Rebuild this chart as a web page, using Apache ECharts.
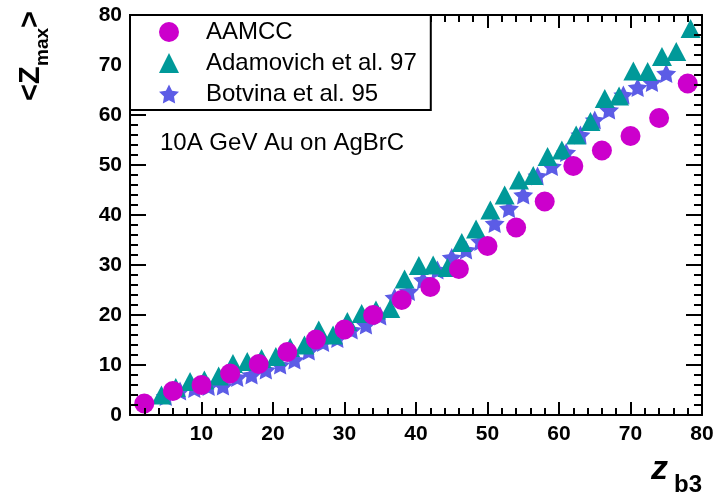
<!DOCTYPE html>
<html>
<head>
<meta charset="utf-8">
<script src="https://cdn.jsdelivr.net/npm/echarts@6/dist/echarts.min.js"></script>
<style>
html,body{margin:0;padding:0;background:#fff;}
#wrap{position:relative;width:715px;height:494px;background:#fff;}
.layer{position:absolute;left:0;top:0;width:715px;height:494px;}
</style>
</head>
<body>
<div id="wrap"><div id="marks" class="layer"></div><div id="frame" class="layer"></div><div id="deco" class="layer"></div></div>
<script>
// ---- data ----
var seriesNames = ['AAMCC', 'Adamovich et al. 97', 'Botvina et al. 95'];

var aamccX = [2, 6, 10, 14, 18, 22, 26, 30, 34, 38, 42, 46, 50, 54, 58, 62, 66, 70, 74, 78];
var aamccY = [2.3, 4.8, 6.0, 8.3, 10.2, 12.6, 15.1, 17.1, 20.0, 23.0, 25.6, 29.2, 33.8, 37.5, 42.7, 49.8, 52.9, 55.8, 59.4, 66.3];

var adamX = [4.4, 6.4, 8.4, 10.4, 12.4, 14.4, 16.4, 18.4, 20.4, 22.4, 24.4, 26.4, 28.4, 30.4, 32.4, 34.4, 36.4, 38.4, 40.4,
             42.4, 44.4, 46.4, 48.4, 50.4, 52.4, 54.4, 56.4, 58.4, 60.4, 62.4, 64.4, 66.4, 68.4, 70.4, 72.4, 74.4, 76.4, 78.4];
var adamY = [4.0, 5.5, 6.7, 7.0, 7.8, 10.3, 10.7, 11.3, 11.7, 13.5, 14.0, 17.0, 16.0, 18.7, 20.3, 21.0, 21.3, 27.2, 29.9,
             30.0, 29.5, 34.5, 37.2, 41.0, 44.0, 47.0, 47.9, 51.7, 53.0, 56.0, 58.7, 63.3, 63.8, 68.8, 68.7, 71.7, 72.7, 77.3];

var botX = [5, 7, 9, 11, 13, 15, 17, 19, 21, 23, 25, 27, 29, 31, 33, 35, 37, 39, 41,
            43, 45, 47, 49, 51, 53, 55, 57, 59, 61, 63, 65, 67, 69, 71, 73, 75];
var botY = [3.7, 4.8, 5.3, 5.7, 5.8, 7.5, 8.0, 9.0, 10.0, 11.0, 12.8, 14.5, 15.3, 17.0, 18.0, 19.8, 23.5, 24.7, 27.0,
            29.0, 31.5, 33.0, 34.7, 38.3, 41.3, 44.0, 47.8, 49.7, 52.5, 56.0, 59.0, 61.0, 64.0, 65.5, 66.5, 68.3];

var colors = ['#cc00cc', '#009999', '#5c5ce6'];

function pairs(xs, ys) { return xs.map(function (x, i) { return [x, ys[i]]; }); }

var FONT = '"Liberation Sans", Arial, Helvetica, sans-serif';
var starPath = 'path://M50,0 L64.7,29.8 L97.6,34.5 L73.8,57.7 L79.4,90.5 L50,75 L20.6,90.5 L26.2,57.7 L2.4,34.5 L35.3,29.8 Z';
var gridBox = { left: 130, right: 13, top: 15, bottom: 79, outerBoundsMode: 'none' };

// ---------- layer 1: markers (axes hidden, same scale) ----------
function hiddenAxis(pos) {
  return {
    type: 'value', min: 0, max: 80, interval: 10, position: pos,
    axisLine: { show: false }, axisTick: { show: false }, minorTick: { show: false },
    splitLine: { show: false }, axisLabel: { show: false }
  };
}
var marks = echarts.init(document.getElementById('marks'), null, { renderer: 'canvas' });
marks.setOption({
  animation: false,
  backgroundColor: '#fff',
  grid: gridBox,
  xAxis: hiddenAxis('bottom'),
  yAxis: hiddenAxis('left'),
  series: [
    { name: seriesNames[2], type: 'scatter', symbol: starPath, symbolSize: [20, 19],
      itemStyle: { color: colors[2], opacity: 1 }, data: pairs(botX, botY) },
    { name: seriesNames[1], type: 'scatter', symbol: 'triangle', symbolSize: [20, 19],
      itemStyle: { color: colors[1], opacity: 1 }, data: pairs(adamX, adamY) },
    { name: seriesNames[0], type: 'scatter', symbol: 'circle', symbolSize: 20,
      itemStyle: { color: colors[0], opacity: 1 }, data: pairs(aamccX, aamccY) }
  ]
});

// ---------- layer 2: frame and ticks ----------
function tickAxis(pos, tickLen, minorLen) {
  return {
    type: 'value', min: 0, max: 80, interval: 10, position: pos,
    axisLine: { show: true, onZero: false, lineStyle: { color: '#000', width: 2 } },
    axisTick: { show: true, inside: true, length: tickLen, lineStyle: { color: '#000', width: 2 } },
    minorTick: { show: true, splitNumber: 5, length: minorLen, lineStyle: { color: '#000', width: 2 } },
    splitLine: { show: false },
    axisLabel: { show: false }
  };
}
var frame = echarts.init(document.getElementById('frame'), null, { renderer: 'canvas' });
frame.setOption({
  animation: false,
  backgroundColor: 'transparent',
  grid: gridBox,
  xAxis: [tickAxis('bottom', 13, 7), tickAxis('top', 13, 7)],
  yAxis: [tickAxis('left', 16, 8), tickAxis('right', 16, 8)],
  series: [{ type: 'scatter', data: [] }]
});

// ---------- layer 3: tick labels, legend, titles ----------
function labelAxis(pos, isX) {
  return {
    type: 'value', min: 0, max: 80, interval: 10, position: pos,
    axisLine: { show: false }, axisTick: { show: false }, minorTick: { show: false }, splitLine: { show: false },
    axisLabel: { show: true, color: '#000', fontFamily: FONT, fontWeight: 'bold', fontSize: 21,
                 margin: isX ? 9 : 8, showMinLabel: !isX }
  };
}
var deco = echarts.init(document.getElementById('deco'), null, { renderer: 'canvas' });
deco.setOption({
  animation: false,
  backgroundColor: 'transparent',
  grid: gridBox,
  xAxis: labelAxis('bottom', true),
  yAxis: labelAxis('left', false),
  legend: {
    left: 130, top: 15, orient: 'vertical',
    backgroundColor: '#fff', borderColor: '#000', borderWidth: 2,
    padding: [5, 14, 4, 29], itemGap: 7, itemWidth: 20, itemHeight: 20,
    textStyle: { fontFamily: FONT, fontSize: 24, color: '#000', padding: [0, 0, 0, 22] },
    data: [
      { name: seriesNames[0], icon: 'circle' },
      { name: seriesNames[1], icon: 'triangle' },
      { name: seriesNames[2], icon: starPath }
    ],
    selectedMode: false
  },
  graphic: [
    { type: 'text', left: 160, top: 131,
      style: { text: '10A GeV Au on AgBrC', font: '24px ' + FONT, fill: '#000' } },
    { type: 'group', x: 45, y: 101, rotation: Math.PI / 2,
      children: [
        { type: 'text', x: 0, y: 0, style: { text: '<Z', font: 'bold 29px ' + FONT, fill: '#000', textVerticalAlign: 'bottom', verticalAlign: 'bottom' } },
        { type: 'text', x: 35, y: 7, style: { text: 'max', font: 'bold 19px ' + FONT, fill: '#000', textVerticalAlign: 'bottom', verticalAlign: 'bottom' } },
        { type: 'text', x: 73, y: 0, style: { text: '>', font: 'bold 29px ' + FONT, fill: '#000', textVerticalAlign: 'bottom', verticalAlign: 'bottom' } }
      ]
    },
    { type: 'text', x: 651, y: 487,
      style: { text: 'z', font: 'italic bold 34px ' + FONT, fill: '#000', textVerticalAlign: 'bottom', verticalAlign: 'bottom' } },
    { type: 'text', x: 674, y: 497,
      style: { text: 'b3', font: 'bold 24px ' + FONT, fill: '#000', textVerticalAlign: 'bottom', verticalAlign: 'bottom' } }
  ],
  series: [
    { name: seriesNames[0], type: 'scatter', symbol: 'circle', itemStyle: { color: colors[0], opacity: 1 }, data: [] },
    { name: seriesNames[1], type: 'scatter', symbol: 'triangle', itemStyle: { color: colors[1], opacity: 1 }, data: [] },
    { name: seriesNames[2], type: 'scatter', symbol: starPath, itemStyle: { color: colors[2], opacity: 1 }, data: [] }
  ]
});
</script>
</body>
</html>
